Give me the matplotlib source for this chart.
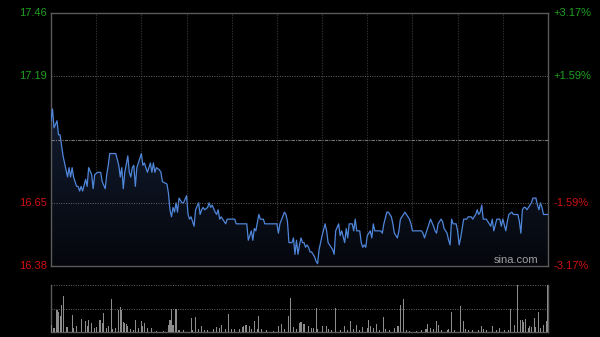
import matplotlib
matplotlib.use("Agg")
import matplotlib.pyplot as plt
import numpy as np
from matplotlib.colors import LinearSegmentedColormap

# ---- data ----
prev_close = 16.92
price_ticks_left = [17.46, 17.19, 16.65, 16.38]
pct_ticks_right = ["+3.17%", "+1.59%", "-1.59%", "-3.17%"]
pct_tick_prices = [17.46, 17.19, 16.65, 16.38]

minutes = [0, 1, 2, 4, 5, 6, 8, 9, 11, 12, 13, 14, 15, 17, 18, 19, 20, 21, 23, 24,
           25, 27, 28, 29, 31, 33, 34, 36, 37, 38, 39, 43, 45, 46, 47, 48, 49, 51, 52, 53,
           54, 55, 56, 57, 60, 61, 62, 64, 65, 66, 67, 68, 69, 70, 72, 73, 74, 77, 78, 79,
           80, 81, 82, 83, 84, 85, 86, 87, 88, 90, 91, 92, 93, 95, 96, 98, 99, 100, 101, 102,
           104, 105, 106, 107, 109, 110, 111, 112, 113, 115, 116, 117, 119, 122, 123, 130, 131, 133, 134, 135,
           136, 138, 139, 141, 142, 150, 151, 152, 155, 156, 157, 158, 160, 161, 162, 163, 164, 165, 166, 167,
           168, 169, 170, 171, 172, 173, 175, 176, 177, 178, 180, 182, 183, 184, 186, 187, 188, 189, 191, 192,
           193, 195, 196, 197, 198, 200, 201, 202, 203, 205, 206, 207, 208, 209, 210, 212, 213, 214, 215, 219,
           220, 221, 223, 224, 226, 227, 228, 230, 231, 232, 234, 235, 236, 238, 239, 240, 246, 247, 248, 249,
           250, 251, 252, 254, 255, 256, 257, 259, 260, 261, 263, 264, 265, 266, 267, 269, 270, 271, 272, 274,
           276, 277, 279, 280, 282, 283, 284, 285, 286, 287, 288, 289, 290, 292, 293, 294, 296, 298, 299, 300,
           302, 303, 304, 306, 307, 310, 311, 312, 313, 314, 315, 316, 318, 319, 320, 322, 323, 324, 325, 326,
           327, 329, 330]
prices = [17.00, 17.05, 16.97, 17.00, 16.94, 16.94, 16.85, 16.82, 16.76, 16.80, 16.76, 16.80, 16.76, 16.72, 16.72, 16.70, 16.72, 16.70, 16.75, 16.72,
          16.80, 16.77, 16.71, 16.77, 16.78, 16.78, 16.74, 16.71, 16.77, 16.81, 16.86, 16.86, 16.81, 16.76, 16.80, 16.71, 16.78, 16.85, 16.78, 16.76,
          16.80, 16.81, 16.72, 16.80, 16.86, 16.81, 16.82, 16.78, 16.80, 16.82, 16.78, 16.82, 16.78, 16.80, 16.79, 16.78, 16.74, 16.73, 16.69, 16.62,
          16.59, 16.63, 16.61, 16.65, 16.61, 16.67, 16.66, 16.65, 16.65, 16.68, 16.60, 16.58, 16.59, 16.55, 16.62, 16.65, 16.60, 16.62, 16.63, 16.62,
          16.63, 16.65, 16.63, 16.64, 16.61, 16.60, 16.62, 16.58, 16.59, 16.57, 16.56, 16.58, 16.58, 16.58, 16.56, 16.56, 16.49, 16.53, 16.49, 16.54,
          16.53, 16.60, 16.58, 16.58, 16.56, 16.56, 16.52, 16.56, 16.61, 16.60, 16.57, 16.48, 16.48, 16.50, 16.43, 16.49, 16.43, 16.47, 16.50, 16.48,
          16.48, 16.46, 16.47, 16.46, 16.44, 16.44, 16.42, 16.40, 16.39, 16.45, 16.51, 16.56, 16.53, 16.48, 16.46, 16.45, 16.43, 16.53, 16.56, 16.51,
          16.53, 16.48, 16.54, 16.50, 16.56, 16.56, 16.53, 16.58, 16.53, 16.53, 16.48, 16.46, 16.47, 16.46, 16.51, 16.53, 16.50, 16.56, 16.53, 16.53,
          16.52, 16.56, 16.61, 16.61, 16.59, 16.56, 16.52, 16.50, 16.53, 16.58, 16.60, 16.61, 16.60, 16.58, 16.56, 16.53, 16.53, 16.52, 16.50, 16.52,
          16.54, 16.56, 16.58, 16.55, 16.53, 16.52, 16.56, 16.58, 16.57, 16.54, 16.52, 16.49, 16.47, 16.58, 16.56, 16.56, 16.53, 16.47, 16.50, 16.58,
          16.58, 16.59, 16.59, 16.58, 16.60, 16.62, 16.60, 16.61, 16.64, 16.58, 16.58, 16.58, 16.57, 16.55, 16.58, 16.53, 16.58, 16.58, 16.55, 16.58,
          16.53, 16.57, 16.60, 16.61, 16.60, 16.60, 16.57, 16.52, 16.62, 16.63, 16.63, 16.62, 16.64, 16.65, 16.67, 16.67, 16.64, 16.62, 16.65, 16.63,
          16.60, 16.60, 16.60]

vol_minutes = [0, 2, 4, 5, 6, 7, 8, 10, 11, 14, 15, 17, 20, 23, 24, 25, 27, 29, 30, 32,
               33, 34, 35, 37, 38, 40, 41, 43, 45, 46, 47, 48, 49, 50, 51, 53, 55, 56, 58, 60,
               61, 62, 64, 67, 70, 75, 78, 79, 80, 81, 83, 85, 88, 93, 94, 96, 98, 100, 102, 104,
               108, 110, 112, 113, 116, 118, 120, 122, 125, 127, 128, 129, 130, 132, 133, 135, 137, 138, 140, 143,
               148, 151, 153, 155, 158, 159, 161, 163, 165, 166, 168, 171, 173, 174, 176, 177, 180, 183, 184, 186,
               189, 192, 195, 197, 199, 201, 203, 205, 207, 210, 211, 212, 214, 216, 218, 221, 222, 225, 228, 230,
               231, 232, 234, 236, 238, 243, 246, 249, 250, 252, 254, 256, 257, 259, 263, 264, 266, 268, 272, 274,
               275, 277, 280, 284, 286, 287, 289, 293, 296, 298, 301, 304, 305, 308, 310, 312, 313, 314, 315, 317,
               318, 319, 321, 322, 324, 325, 327, 329, 330]
volumes = [7, 4, 22, 20, 16, 27, 36, 5, 5, 17, 4, 6, 13, 11, 6, 12, 9, 4, 5, 12,
           12, 9, 19, 4, 6, 33, 3, 4, 22, 25, 22, 10, 9, 8, 6, 3, 2, 12, 4, 11,
           6, 9, 4, 4, 1, 1, 7, 12, 23, 7, 23, 2, 2, 14, 2, 15, 3, 6, 2, 2,
           3, 5, 4, 7, 3, 18, 3, 3, 3, 5, 6, 7, 7, 6, 3, 11, 3, 16, 3, 2,
           1, 6, 8, 3, 16, 34, 5, 3, 9, 10, 8, 6, 4, 4, 24, 3, 6, 6, 3, 2,
           24, 2, 6, 2, 11, 3, 7, 2, 5, 4, 12, 6, 4, 8, 2, 15, 3, 2, 4, 6,
           6, 27, 33, 2, 1, 1, 2, 3, 8, 4, 3, 11, 7, 2, 2, 3, 20, 2, 26, 11,
           3, 2, 2, 2, 6, 3, 2, 6, 2, 4, 2, 2, 23, 7, 47, 12, 12, 10, 13, 4,
           6, 5, 14, 5, 20, 4, 7, 11, 47]

# ---- figure ----
plt.rcParams["font.family"] = ["Liberation Sans", "DejaVu Sans"]
W, H = 600, 337
fig = plt.figure(figsize=(W / 100, H / 100), dpi=100, facecolor="black")

def fx(px):
    return px / W

def fy(py):
    return 1 - py / H

ax = fig.add_axes([fx(51), fy(266), fx(548) - fx(51), fy(13) - fy(266)])
axv = fig.add_axes([fx(51), fy(332), fx(548) - fx(51), fy(285) - fy(332)])

ymin, ymax = 16.38, 17.46
for a in (ax, axv):
    a.set_facecolor("black")
    a.set_xlim(0, 330)
    a.set_xticks([])
    a.set_yticks([])

ax.set_ylim(ymin, ymax)
for s in ax.spines.values():
    s.set_color("#5a5a5a")
    s.set_linewidth(1.0)

# grid lines
for m in range(30, 330, 30):
    ax.axvline(m, color="#333333", lw=0.8, ls=(0, (1.2, 1.2)), zorder=1)
for p in [17.19, 16.65]:
    ax.axhline(p, color="#666666", lw=0.7, ls=(0, (1, 1.5)), zorder=4)
ax.axhline(prev_close, color="#777777", lw=0.8, ls=(0, (3, 1, 1, 1)), zorder=4)

# price line with gradient fill
poly = ax.fill_between(minutes, prices, ymin, color="none", lw=0, zorder=2)
cmap = LinearSegmentedColormap.from_list("fade", ["#05070c", "#121c30"])
grad = np.linspace(0, 1, 256).reshape(-1, 1)
top = max(prices)
im = ax.imshow(grad, cmap=cmap, aspect="auto", origin="lower",
               extent=[0, 330, ymin, top], zorder=2)
im.set_clip_path(poly.get_paths()[0], transform=ax.transData)
ax.set_xlim(0, 330)
ax.set_ylim(ymin, ymax)
ax.plot(minutes, prices, color="#4f86da", lw=0.9, zorder=3)

# left labels
for p in price_ticks_left:
    c = "#1ea01e" if p > prev_close else "#d01010"
    fig.text(fx(47), fy(13 + (ymax - p) / (ymax - ymin) * 253), f"{p:.2f}",
             color=c, fontsize=8, ha="right", va="center")
# right labels
for lab, p in zip(pct_ticks_right, pct_tick_prices):
    c = "#1ea01e" if lab.startswith("+") else "#d01010"
    fig.text(fx(553), fy(13 + (ymax - p) / (ymax - ymin) * 253), lab,
             color=c, fontsize=8, ha="left", va="center")

ax.text(0.98, 0.005, "sina.com", transform=ax.transAxes, color="#a0a0a0",
        fontsize=8, ha="right", va="bottom", zorder=5)

# volume panel
axv.set_ylim(0, 47)
axv.bar(vol_minutes, volumes, width=0.7, color="#8c8c8c", zorder=3)
axv.axhline(23.5, color="#666666", lw=0.7, ls=(0, (1, 1.5)), zorder=1)
axv.axhline(47, color="#666666", lw=0.7, ls=(0, (1, 1.5)), zorder=1)
axv.spines["top"].set_visible(False)
for side in ["left", "bottom", "right"]:
    axv.spines[side].set_color("#5a5a5a")
    axv.spines[side].set_linewidth(1.0)

fig.savefig("out.png", dpi=100, facecolor="black")
